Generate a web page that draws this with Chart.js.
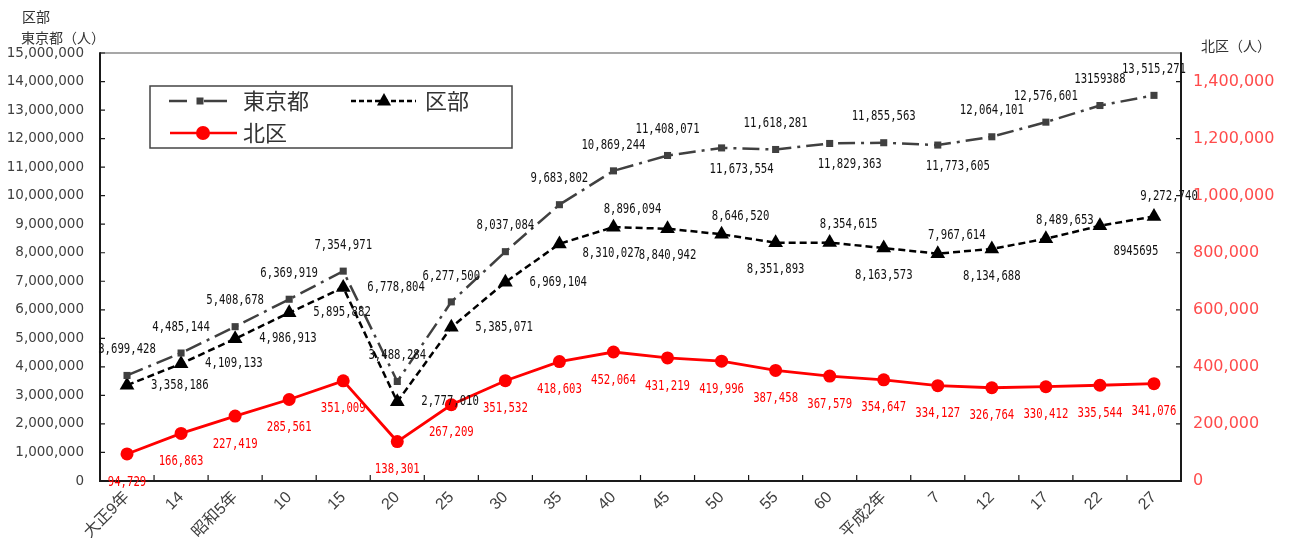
<!DOCTYPE html>
<html><head><meta charset="utf-8">
<script src="https://cdn.jsdelivr.net/npm/chart.js@4"></script>
<style>html,body{margin:0;padding:0;background:#fff}</style>
</head><body>
<canvas id="c" width="1290" height="544"></canvas>
<script>
// ---- data ----
const categories = ['大正9年','14','昭和5年','10','15','20','25','30','35','40','45','50','55','60','平成2年','7','12','17','22','27'];
const tokyo = [3699428,4485144,5408678,6369919,7354971,3488284,6277500,8037084,9683802,10869244,11408071,11673554,11618281,11829363,11855563,11773605,12064101,12576601,13159388,13515271];
const kubu  = [3358186,4109133,4986913,5895882,6778804,2777010,5385071,6969104,8310027,8896094,8840942,8646520,8351893,8354615,8163573,7967614,8134688,8489653,8945695,9272740];
const kita  = [94729,166863,227419,285561,351009,138301,267209,351532,418603,452064,431219,419996,387458,367579,354647,334127,326764,330412,335544,341076];
const seriesNames = ['東京都','区部','北区'];
const leftTicks  = [0,1000000,2000000,3000000,4000000,5000000,6000000,7000000,8000000,9000000,10000000,11000000,12000000,13000000,14000000,15000000];
const rightTicks = [0,200000,400000,600000,800000,1000000,1200000,1400000];
const leftMax = 15000000, rightMax = 1500000;
const leftTitle = ['区部','東京都（人）'];
const rightTitle = '北区（人）';

// ---- label placement (style only) ----
const tokyoLabelPos = ['a','a','a','a','a','a','a','a','a','a','a','br','a','br','a','br','a','a','a','a'];
const kubuLabelPos  = ['r','r','r','r','r','r','r','r','r2','ar','b','ar','b','ar','b','ar','b','ar','br2','ar2'];
const kitaLabelPos  = Array(20).fill('b2');
const plainLabelIdx = [[18],[18],[]]; // labels shown without separators in the original
const OFFS = {
  a:{dx:0,dy:-26,al:'center'}, b:{dx:0,dy:27,al:'center'}, b2:{dx:0,dy:28,al:'center'},
  br:{dx:20,dy:21,al:'center'}, br2:{dx:36,dy:26,al:'center'},
  ar:{dx:19,dy:-18,al:'center'}, ar2:{dx:15,dy:-20,al:'center'},
  r:{dx:24,dy:0,al:'left'}, r2:{dx:23,dy:9,al:'left'}
};
const labelPos = [tokyoLabelPos, kubuLabelPos, kitaLabelPos];
const labelColors = ['#111','#111','#ff0000'];

const fmt = v => v.toLocaleString('en-US');

const dataLabels = {
  id:'dataLabels',
  afterDatasetsDraw(chart){
    const ctx = chart.ctx;
    chart.data.datasets.forEach((ds,i)=>{
      const meta = chart.getDatasetMeta(i);
      meta.data.forEach((el,j)=>{
        const v = ds.data[j];
        const txt = plainLabelIdx[i].includes(j) ? String(v) : fmt(v);
        const o = OFFS[labelPos[i][j]];
        ctx.save();
        ctx.font = '14px "DejaVu Sans Mono"';
        const sx = 0.76;
        const w = ctx.measureText(txt).width*sx;
        let cx = el.x + o.dx, cy = el.y + o.dy;
        if (o.al==='left') cx += w/2;
        ctx.translate(cx, cy);
        ctx.scale(sx,1);
        ctx.fillStyle = labelColors[i];
        ctx.textAlign='center'; ctx.textBaseline='middle';
        ctx.fillText(txt,0,0);
        ctx.restore();
      });
    });
  }
};

const frame = {
  id:'frame',
  beforeDatasetsDraw(chart){
    const {ctx, chartArea:ca, scales} = chart;
    ctx.save();
    ctx.lineCap='butt';
    ctx.strokeStyle='#8a8a8a'; ctx.lineWidth=1.5;
    ctx.beginPath(); ctx.moveTo(ca.left, ca.top); ctx.lineTo(ca.right, ca.top); ctx.stroke();
    ctx.strokeStyle='#1a1a1a'; ctx.lineWidth=2;
    ctx.beginPath();
    ctx.moveTo(ca.left, ca.top-0.75); ctx.lineTo(ca.left, ca.bottom);
    ctx.lineTo(ca.right, ca.bottom); ctx.lineTo(ca.right, ca.top-0.75);
    ctx.stroke();
    ctx.lineWidth=1.2;
    ctx.beginPath();
    scales.y.ticks.forEach(t=>{ const p=scales.y.getPixelForValue(t.value); ctx.moveTo(ca.left, p); ctx.lineTo(ca.left+5, p); });
    scales.y1.ticks.forEach(t=>{ const p=scales.y1.getPixelForValue(t.value); ctx.moveTo(ca.right, p); ctx.lineTo(ca.right-5, p); });
    const x = scales.x;
    for (let k=1;k<categories.length;k++){
      const p=(x.getPixelForValue(k-1)+x.getPixelForValue(k))/2;
      ctx.moveTo(p, ca.bottom); ctx.lineTo(p, ca.bottom-6);
    }
    ctx.stroke();
    ctx.restore();
  },
  afterDraw(chart){
    const {ctx, chartArea:ca} = chart;
    ctx.save();
    ctx.fillStyle='#333'; ctx.font='14px "Noto Sans CJK JP"'; ctx.textBaseline='middle'; ctx.textAlign='left';
    ctx.fillText(leftTitle[0], 22, 17);
    ctx.fillText(leftTitle[1], 21, 38);
    ctx.fillText(rightTitle, 1201, 46);
    const L = ca.left, T = ca.top;
    const bx=L+50, by=T+33, bw=362, bh=62;
    ctx.fillStyle='#fff'; ctx.fillRect(bx,by,bw,bh);
    ctx.strokeStyle='#444'; ctx.lineWidth=1.5; ctx.strokeRect(bx,by,bw,bh);
    const y1=T+48, y2=T+80;
    ctx.strokeStyle='#404040'; ctx.lineWidth=2.5;
    ctx.beginPath(); ctx.moveTo(L+69,y1); ctx.lineTo(L+87,y1); ctx.moveTo(L+104,y1); ctx.lineTo(L+127,y1); ctx.stroke();
    ctx.fillStyle='#404040'; ctx.fillRect(L+96.5,y1-3.5,7,7);
    ctx.strokeStyle='#000'; ctx.setLineDash([5,3]);
    ctx.beginPath(); ctx.moveTo(L+251,y1); ctx.lineTo(L+316,y1); ctx.stroke();
    ctx.setLineDash([]);
    ctx.fillStyle='#000';
    ctx.beginPath(); ctx.moveTo(L+284,y1-8); ctx.lineTo(L+291,y1+4.5); ctx.lineTo(L+277,y1+4.5); ctx.closePath(); ctx.fill();
    ctx.strokeStyle='#ff0000';
    ctx.beginPath(); ctx.moveTo(L+70,y2); ctx.lineTo(L+137,y2); ctx.stroke();
    ctx.fillStyle='#ff0000'; ctx.beginPath(); ctx.arc(L+103,y2,7,0,Math.PI*2); ctx.fill();
    ctx.fillStyle='#333'; ctx.font='22px "Noto Sans CJK JP"'; ctx.textBaseline='middle'; ctx.textAlign='left';
    ctx.fillText(seriesNames[0], L+143, y1);
    ctx.fillText(seriesNames[1], L+325, y1);
    ctx.fillText(seriesNames[2], L+143, y2);
    ctx.restore();
  }
};

new Chart(document.getElementById('c'), {
  type:'line',
  data:{
    labels:categories,
    datasets:[
      {label:seriesNames[0], data:tokyo, yAxisID:'y', borderColor:'#404040', borderWidth:2.5, borderDash:[17,6,3,6],
       pointStyle:'rect', pointRadius:5, pointBackgroundColor:'#404040', pointBorderColor:'#404040', pointBorderWidth:0, tension:0, fill:false},
      {label:seriesNames[1], data:kubu, yAxisID:'y', borderColor:'#000', borderWidth:2.5, borderDash:[7,4],
       pointStyle:'triangle', pointRadius:8.5, pointBackgroundColor:'#000', pointBorderColor:'#000', pointBorderWidth:0, tension:0, fill:false},
      {label:seriesNames[2], data:kita, yAxisID:'y1', borderColor:'#ff0000', borderWidth:2.8,
       pointStyle:'circle', pointRadius:6.5, pointBackgroundColor:'#ff0000', pointBorderColor:'#ff0000', pointBorderWidth:0, tension:0, fill:false}
    ]
  },
  options:{
    responsive:false, animation:false,
    layout:{padding:{top:53,left:0,right:0,bottom:0}},
    plugins:{legend:{display:false}, tooltip:{enabled:false}},
    scales:{
      x:{type:'category', offset:true, grid:{display:false, drawTicks:false}, border:{display:false},
         ticks:{autoSkip:false, minRotation:45, maxRotation:45, padding:7, color:'#404040', font:{family:'"Liberation Sans","Noto Sans CJK JP"', size:16}},
         afterFit(s){ s.height=63; }},
      y:{position:'left', min:0, max:leftMax, grid:{display:false, drawTicks:false}, border:{display:false},
         ticks:{padding:16, color:'#404040', font:{family:'"DejaVu Sans"', size:13.5}, callback:v=>fmt(v)},
         afterBuildTicks(s){ s.min=0; s.max=leftMax; s.ticks = leftTicks.map(v=>({value:v})); },
         afterFit(s){ s.width=100; }},
      y1:{position:'right', min:0, max:rightMax, grid:{display:false, drawTicks:false}, border:{display:false},
         ticks:{padding:12, color:'#ff4b4b', font:{family:'"DejaVu Sans"', size:16}, callback:v=>fmt(v)},
         afterBuildTicks(s){ s.min=0; s.max=rightMax; s.ticks = rightTicks.map(v=>({value:v})); },
         afterFit(s){ s.width=109; }}
    }
  },
  plugins:[frame, dataLabels]
});
</script>
</body></html>
